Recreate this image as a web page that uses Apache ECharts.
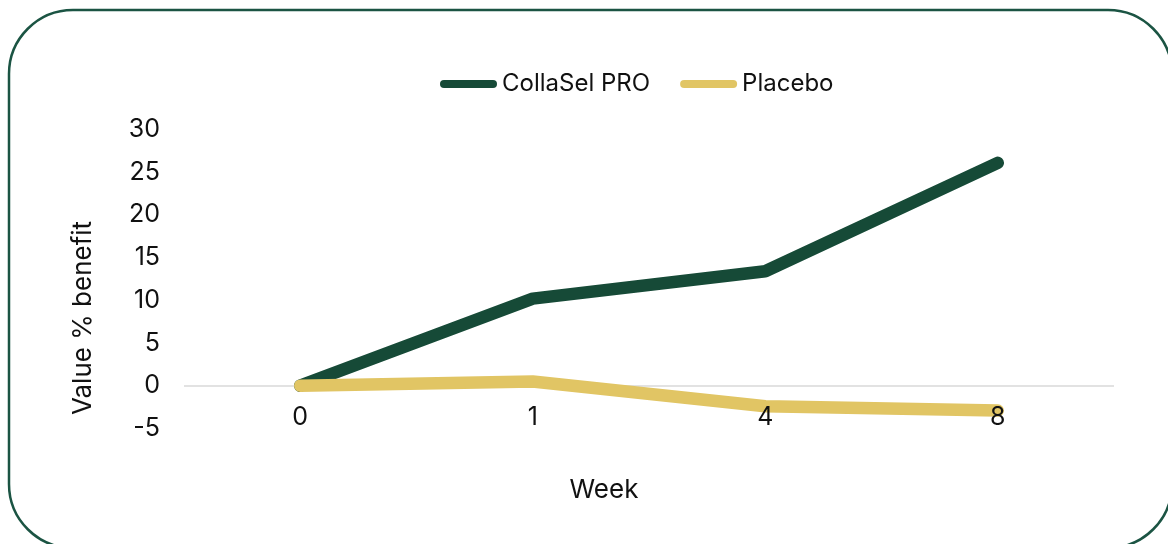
<!DOCTYPE html>
<html>
<head>
<meta charset="utf-8">
<script src="https://cdn.jsdelivr.net/npm/echarts@6/dist/echarts.min.js"></script>
<style>
html,body{margin:0;padding:0;background:#fff;}
#chart{width:1168px;height:544px;}
</style>
</head>
<body>
<div id="chart"></div>
<script>
const weeks = ['0', '1', '4', '8'];
const collaselPro = [0, 10.2, 13.4, 26.1];
const placebo = [0, 0.5, -2.4, -2.9];
const yTicks = { min: -5, max: 30, interval: 5 };

const chart = echarts.init(document.getElementById('chart'));
const font = 'Inter, "Liberation Sans", sans-serif';
const gridTop = 129.5, gridBottomPx = 428.4;
// pixel distance from grid bottom (-5) up to the zero line
const zeroOffset = (gridBottomPx - gridTop) * (0 - yTicks.min) / (yTicks.max - yTicks.min);
// only the zero split line is visible
const splitColors = [];
for (let v = yTicks.min; v <= yTicks.max; v += yTicks.interval) {
  splitColors.push(v === 0 ? '#d9d9d9' : 'rgba(0,0,0,0)');
}
chart.setOption({
  animation: false,
  backgroundColor: '#ffffff',
  legend: {
    top: 67,
    left: 435,
    itemWidth: 57,
    itemHeight: 8,
    itemGap: 30,
    icon: 'path://M4,0 H53 A4,4 0 0 1 53,8 H4 A4,4 0 0 1 4,0 Z',
    textStyle: { fontFamily: font, fontSize: 24, color: '#111' },
    data: ['CollaSel PRO', 'Placebo']
  },
  grid: { left: 184, right: 54, top: gridTop, bottom: 544 - gridBottomPx, containLabel: false },
  xAxis: {
    type: 'category',
    data: weeks,
    boundaryGap: true,
    offset: -zeroOffset,
    z: 5,
    axisLine: { show: false, onZero: false },
    axisTick: { show: false },
    axisLabel: { fontFamily: font, fontSize: 25, color: '#111', margin: 19 }
  },
  yAxis: {
    type: 'value',
    min: yTicks.min,
    max: yTicks.max,
    interval: yTicks.interval,
    axisLine: { show: false },
    axisTick: { show: false },
    splitLine: { show: true, lineStyle: { color: splitColors, width: 1.5 } },
    axisLabel: { fontFamily: font, fontSize: 25, color: '#111', margin: 24 }
  },
  graphic: [
    {
      type: 'rect',
      shape: { x: 9, y: 10, width: 1163, height: 538, r: 64 },
      style: { fill: 'none', stroke: '#1b5443', lineWidth: 2.5 },
      silent: true
    },
    {
      type: 'text',
      x: 83, y: 318,
      rotation: Math.PI / 2,
      style: {
        text: 'Value % benefit',
        font: '26px ' + font,
        fill: '#111',
        textAlign: 'center',
        textVerticalAlign: 'middle'
      }
    },
    {
      type: 'text',
      x: 604, y: 490,
      style: {
        text: 'Week',
        font: '26px ' + font,
        fill: '#111',
        textAlign: 'center',
        textVerticalAlign: 'middle'
      }
    }
  ],
  series: [
    {
      name: 'CollaSel PRO',
      type: 'line',
      data: collaselPro,
      symbol: 'none',
      color: '#164a37',
      lineStyle: { width: 12.5, color: '#164a37', cap: 'round', join: 'bevel' }
    },
    {
      name: 'Placebo',
      type: 'line',
      data: placebo,
      symbol: 'none',
      color: '#e1c564',
      lineStyle: { width: 12.5, color: '#e1c564', cap: 'round', join: 'bevel' }
    }
  ]
});
</script>
</body>
</html>
